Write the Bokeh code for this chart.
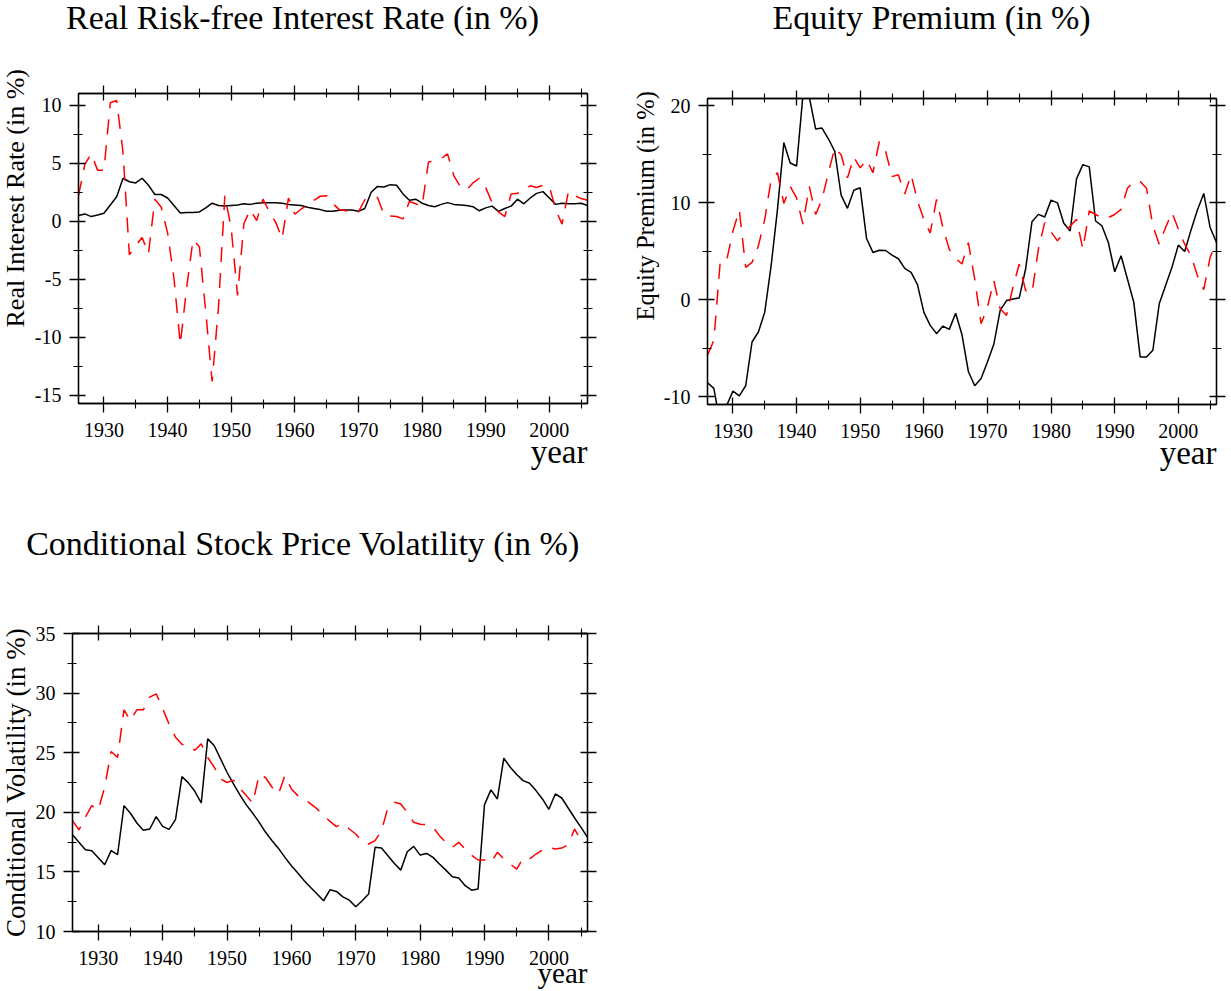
from bokeh.plotting import figure
from bokeh.models import Range1d, LinearAxis, FixedTicker, Title
from bokeh.layouts import column, row
from bokeh.embed import file_html
from bokeh.resources import INLINE
from bokeh.core.properties import value

# ---------------- data ----------------
years = list(range(1926, 2007))

rate_model = [0.49, 0.63, 0.40, 0.54,
              0.69, 1.4, 2.1, 3.7, 3.4, 3.3, 3.7, 3.1, 2.3, 2.3,
              2.0, 1.35, 0.7, 0.75, 0.75, 0.8, 1.15, 1.55, 1.35, 1.3,
              1.35, 1.4, 1.5, 1.45, 1.55, 1.6, 1.6, 1.6, 1.55, 1.45,
              1.4, 1.35, 1.2, 1.1, 1.0, 0.85, 0.85, 0.95, 0.97, 0.97,
              0.86, 1.1, 2.5, 3.0, 2.95, 3.15, 3.1, 2.35, 1.8, 1.9,
              1.55, 1.35, 1.25, 1.45, 1.6, 1.45, 1.4, 1.35, 1.25, 0.9,
              1.15, 1.3, 0.85, 1.1, 1.3, 1.9, 1.5, 2.0, 2.4, 2.55,
              2.0, 1.45, 1.55, 1.5, 1.5, 1.55, 1.35]

rate_data = [2.2, 4.9, 5.8, 4.4,
             4.4, 10.2, 10.4, 5.9, -2.9, -2.1, -1.4, -2.8, 1.9, 1.2,
             -1.0, -4.9, -10.6, -5.7, -1.6, -2.2, -7.8, -13.8, -7.4, 2.2,
             -0.6, -6.4, -0.2, 1.0, 0.05, 1.9, 0.8, -0.1, -1.5, 2.0,
             0.6, 1.05, 1.4, 1.8, 2.15, 2.2, 1.5, 1.0, 0.9, 0.8,
             0.8, 1.85, 1.95, 2.05, 0.55, 0.45, 0.4, 0.2, 1.7, 1.5,
             1.3, 5.1, 5.2, 5.4, 5.8, 3.9, 3.0, 2.7, 3.3, 3.7,
             2.9, 1.6, 0.8, 0.4, 2.35, 2.4, 2.7, 3.05, 2.9, 3.1,
             3.0, 1.0, -0.25, 2.55, 2.2, 1.95, 1.8]

premium_model = [-8.54, -9.12, -12.8, -10.9,
                 -9.4, -9.9, -8.85, -4.34, -3.31, -1.26, 3.52, 9.33, 16.2, 14.1,
                 13.8, 21.1, 20.9, 17.6, 17.7, 16.6, 15.3, 10.8, 9.43, 11.3,
                 11.55, 6.32, 4.89, 5.12, 5.09, 4.61, 4.24, 3.25, 2.84, 1.57,
                 -1.26, -2.63, -3.48, -2.7, -3.04, -1.37, -3.6, -7.38, -8.85, -8.1,
                 -6.39, -4.58, -1.09, -0.07, 0.1, 0.2, 3.18, 8.06, 8.81, 8.54,
                 10.28, 10.0, 7.89, 7.1, 12.47, 13.94, 13.7, 8.13, 7.62, 5.91,
                 2.9, 4.54, 2.15, -0.24, -5.88, -5.88, -5.19, -0.41, 1.47, 3.35,
                 5.64, 4.99, 7.21, 9.26, 10.97, 7.45, 5.91]

premium_data = [-5.7, -4.17, 3.93, 4.03,
                7.1, 9.26, 3.35, 3.86, 5.57, 8.3, 12.4, 13.1, 9.94, 11.7,
                10.5, 7.8, 11.7, 8.8, 10.35, 13.1, 15.65, 14.96, 12.57, 14.7,
                13.6, 14.45, 13.1, 16.3, 15.3, 12.7, 12.9, 10.9, 12.9, 10.2,
                8.3, 6.9, 10.35, 7.45, 5.2, 4.3, 3.7, 5.9, 2.15, -2.46,
                -0.75, 1.98, -0.92, -1.6, 1.3, 3.69, 0.96, 0.72, 5.2, 7.96,
                7.0, 6.08, 6.94, 7.6, 8.3, 5.23, 9.16, 8.8, 8.47, 8.47,
                8.8, 9.33, 11.5, 12.2, 12.2, 11.5, 7.6, 5.74, 7.45, 9.0,
                7.3, 5.74, 4.54, 2.5, 1.06, 4.37, 6.08]

vol_model = [18.12, 17.48, 16.86, 16.78,
             16.19, 15.6, 16.78, 16.44, 20.56, 19.92, 19.1, 18.5, 18.6, 19.64,
             18.82, 18.57, 19.38, 23.0, 22.47, 21.76, 20.78, 26.16, 25.6, 24.48,
             23.36, 22.38, 21.46, 20.62, 19.92, 19.16, 18.32, 17.62, 16.97, 16.22,
             15.52, 14.9, 14.26, 13.7, 13.14, 12.58, 13.5, 13.36, 12.91, 12.63,
             12.07, 12.58, 13.14, 17.06, 17.0, 16.36, 15.71, 15.15, 16.69, 17.14,
             16.41, 16.55, 16.22, 15.66, 15.15, 14.59, 14.48, 13.84, 13.47, 13.56,
             20.64, 21.88, 21.12, 24.54, 23.78, 23.17, 22.66, 22.44, 21.82, 21.12,
             20.25, 21.54, 21.2, 20.36, 19.52, 18.74, 17.9]

vol_data = [19.3, 18.52, 19.6, 20.56,
            20.2, 22.1, 25.1, 24.6, 28.6, 27.7, 28.6, 28.6, 29.66, 29.94,
            28.7, 27.4, 26.3, 25.7, 25.6, 25.2, 25.74, 24.6, 23.8, 22.8,
            22.5, 22.7, 22.0, 21.4, 20.76, 23.17, 22.9, 22.1, 21.54, 23.08,
            21.96, 21.4, 21.1, 20.7, 20.28, 19.72, 19.24, 18.8, 19.07, 18.6,
            18.18, 17.56, 17.34, 17.62, 18.46, 20.4, 20.84, 20.7, 20.0, 19.16,
            19.0, 18.96, 18.74, 18.04, 17.48, 17.06, 17.48, 16.92, 16.4, 16.0,
            16.0, 15.8, 16.64, 16.08, 15.66, 15.24, 16.16, 16.08, 16.5, 16.83,
            17.06, 16.92, 17.0, 17.28, 18.6, 17.6, 17.48]

year_ticks = [1930, 1940, 1950, 1960, 1970, 1980, 1990, 2000]
year_minor = [1935, 1945, 1955, 1965, 1975, 1985, 1995, 2005]

rate_ticks = [-15, -10, -5, 0, 5, 10]
rate_minor = [-12.5, -7.5, -2.5, 2.5, 7.5]
prem_ticks = [-10, 0, 10, 20]
prem_minor = [-5, 5, 15]
vol_ticks = [10, 15, 20, 25, 30, 35]
vol_minor = [12.5, 17.5, 22.5, 27.5, 32.5]

titles = ["Real Risk-free Interest Rate (in %)", "Equity Premium (in %)",
          "Conditional Stock Price Volatility (in %)"]
ylabels = ["Real Interest Rate (in %)", "Equity Premium (in %)",
           "Conditional Volatility (in %)"]
xlabel = "year"

FONT = "Liberation Serif"


def style_axis(ax, ticks, minor, labels=True, tick_out=9, standoff=8):
    ax.ticker = FixedTicker(ticks=ticks, minor_ticks=minor)
    ax.axis_line_color = "black"
    ax.axis_line_width = 1.3
    ax.major_tick_in = 7
    ax.major_tick_out = tick_out
    ax.minor_tick_in = 4
    ax.minor_tick_out = 5
    ax.major_tick_line_color = "black"
    ax.minor_tick_line_color = "black"
    ax.major_tick_line_width = 1.3
    ax.minor_tick_line_width = 1.1
    ax.major_label_text_font = FONT
    ax.major_label_standoff = standoff
    if labels:
        ax.major_label_text_font_size = "20px"
        ax.major_label_text_color = "black"
        ax.major_label_overrides = {t: str(t) for t in ticks}
    else:
        ax.major_label_text_font_size = "1px"
        ax.major_label_text_color = None


def title_band(width, height, xs, y, texts):
    t = figure(width=width, height=height, output_backend="svg", toolbar_location=None,
               title=None, x_range=Range1d(0, width), y_range=Range1d(0, height),
               x_axis_location=None, y_axis_location=None,
               min_border_left=0, min_border_right=0, min_border_top=0, min_border_bottom=0)
    t.outline_line_color = None
    t.background_fill_color = "white"
    t.border_fill_color = "white"
    t.grid.visible = False
    t.text(x=xs, y=[y] * len(xs), text=texts, text_font=value(FONT),
           text_font_size=value("34px"), text_align="center",
           text_baseline="alphabetic", text_color="black")
    return t


def make_panel(width, height, borders, yrange, yt, ym, model, data,
               ylabel, yl_size, yl_align, yl_offset, yl_stand, year_stand,
               year_size="33px"):
    left, top, right, bottom = borders
    p = figure(width=width, height=height, output_backend="svg", toolbar_location=None,
               title=None, x_range=Range1d(1926, 2006), y_range=Range1d(*yrange),
               min_border_left=left, min_border_top=top,
               min_border_right=right, min_border_bottom=bottom)
    p.xgrid.visible = False
    p.ygrid.visible = False
    p.outline_line_color = "black"
    p.outline_line_width = 1.3
    p.background_fill_color = "white"
    p.border_fill_color = "white"
    style_axis(p.xaxis[0], year_ticks, year_minor, standoff=10)
    style_axis(p.yaxis[0], yt, ym, standoff=8)
    top_ax = LinearAxis()
    style_axis(top_ax, year_ticks, year_minor, labels=False, tick_out=8, standoff=0)
    p.add_layout(top_ax, "above")
    right_ax = LinearAxis()
    style_axis(right_ax, yt, ym, labels=False, tick_out=9, standoff=0)
    p.add_layout(right_ax, "right")

    # y-axis label
    p.add_layout(Title(text=ylabel, align=yl_align, offset=yl_offset,
                       vertical_align="top", standoff=yl_stand,
                       text_font=FONT, text_font_size=yl_size,
                       text_font_style="normal", text_color="black"), "left")
    # x-axis label, right aligned under the frame
    p.add_layout(Title(text=xlabel, align="right", offset=0,
                       vertical_align="top", standoff=year_stand,
                       text_font=FONT, text_font_size=year_size,
                       text_font_style="normal", text_color="black"), "below")

    p.line(years, model, line_color="black", line_width=1.5)
    p.line(years, data, line_color="red", line_width=1.5, line_dash="15 11")
    return p


top_titles = title_band(1231, 45, [302, 931], 28, titles[:2])

p1 = make_panel(628, 445, (78, 48, 41, 87), (-15.7, 11.0), rate_ticks, rate_minor,
                rate_model, rate_data,
                ylabel=ylabels[0], yl_size="26px", yl_align="left", yl_offset=76,
                yl_stand=0, year_stand=-12)

p2 = make_panel(603, 445, (79, 53, 15, 86), (-10.78, 20.75), prem_ticks, prem_minor,
                premium_model, premium_data,
                ylabel=ylabels[1], yl_size="24.5px", yl_align="left", yl_offset=84,
                yl_stand=-1, year_stand=-12)

bottom_title = title_band(628, 75, [302.5], 22, titles[2:])

p3 = make_panel(628, 426, (72, 68, 41, 60), (10, 35), vol_ticks, vol_minor,
                vol_model, vol_data,
                ylabel=ylabels[2], yl_size="27px", yl_align="center", yl_offset=0,
                yl_stand=0, year_stand=-22, year_size="29px")

# each figure is wrapped so that the layout does not force shared borders
layout = column(row(top_titles), row(column(p1), column(p2)), row(bottom_title), row(p3))
open("out.html", "w").write(file_html(layout, INLINE))
